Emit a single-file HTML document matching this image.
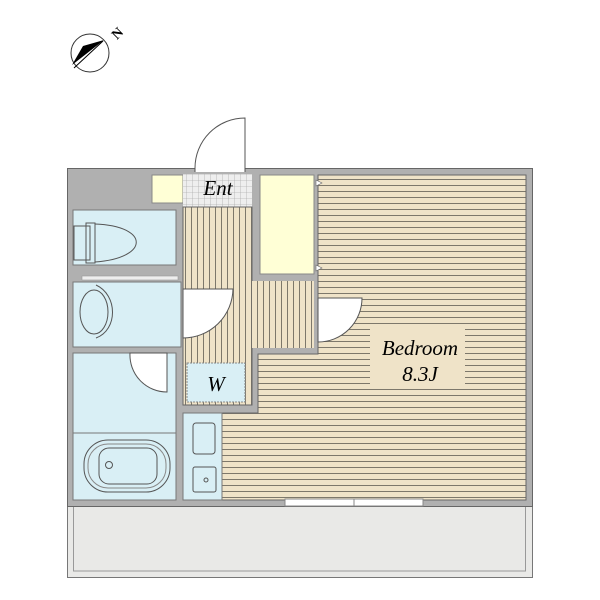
<!DOCTYPE html>
<html><head><style>body{margin:0;background:#fff}svg{display:block}</style></head><body>
<svg width="600" height="600" viewBox="0 0 600 600" xmlns="http://www.w3.org/2000/svg">
<defs>
<pattern id="hs" width="6" height="6" patternUnits="userSpaceOnUse"><rect width="6" height="6" fill="#efe3c8"/><rect y="5" width="6" height="1" fill="#7d786b"/></pattern>
<pattern id="vs" width="6" height="6" patternUnits="userSpaceOnUse"><rect width="6" height="6" fill="#efe3c8"/><rect x="5" width="1" height="6" fill="#7d786b"/></pattern>
<pattern id="tile" width="6" height="6" patternUnits="userSpaceOnUse"><rect width="6" height="6" fill="#eeeeee"/><path d="M0 0H6M0 0V6" stroke="#999" stroke-width="0.6"/></pattern>
</defs>
<rect x="67.5" y="506" width="465" height="71.5" fill="#e9e9e7" stroke="#777"/>
<rect x="73.5" y="506" width="452" height="65" fill="none" stroke="#999"/>
<rect x="67.5" y="168.5" width="465" height="338" fill="#b0b0b0" stroke="#666"/>
<rect x="152" y="175" width="31" height="28" fill="#ffffd6" stroke="#888"/>
<rect x="183" y="174" width="69" height="33" fill="url(#tile)"/>
<text x="218" y="195" font-family="Liberation Serif" font-style="italic" font-size="21" text-anchor="middle">Ent</text>
<rect x="73" y="210" width="103" height="55" fill="#d9eff5" stroke="#777"/>
<rect x="82" y="276" width="96" height="4" fill="#eee" stroke="#999" stroke-width="0.6"/>
<rect x="73" y="282" width="108" height="65" fill="#d9eff5" stroke="#777"/>
<rect x="73" y="353" width="103" height="147" fill="#d9eff5" stroke="#777"/>
<line x1="73" y1="433" x2="176" y2="433" stroke="#777"/>
<rect x="183" y="207" width="69" height="198" fill="url(#vs)" stroke="#666"/>
<rect x="252" y="281" width="62" height="67" fill="url(#vs)"/>
<rect x="187" y="363" width="58" height="39" fill="#d9eff5" stroke="#888" stroke-dasharray="2 1"/>
<text x="216" y="391" font-family="Liberation Serif" font-style="italic" font-size="21" text-anchor="middle">W</text>
<rect x="260" y="175" width="54" height="99" fill="#ffffd6" stroke="#888"/>
<path d="M318 175H526V500H222V413H258V354H318Z" fill="url(#hs)" stroke="#666"/>
<rect x="183" y="413" width="39" height="87" fill="#d9eff5" stroke="#777"/>
<rect x="285" y="499" width="138" height="7" fill="#fff" stroke="#888"/>
<line x1="354" y1="499" x2="354" y2="506" stroke="#888"/>
<rect x="370" y="325" width="95" height="60" fill="#efe3c8"/>
<text x="420" y="355" font-family="Liberation Serif" font-style="italic" font-size="21" text-anchor="middle">Bedroom</text>
<text x="420" y="381" font-family="Liberation Serif" font-style="italic" font-size="21" text-anchor="middle">8.3J</text>
<path d="M245 172V118A50 50 0 0 0 195 168V172" fill="#fff" stroke="#555"/>
<path d="M183 289H233A50 50 0 0 1 183 338Z" fill="#fff" stroke="#555"/>
<path d="M318 298H362A44 44 0 0 1 318 342Z" fill="#fff" stroke="#555"/>
<path d="M130 353H167V392A37 37 0 0 1 130 353Z" fill="#fff" stroke="#555"/>
<path d="M316 180L322 183L316 186Z M316 265L322 268L316 271Z" fill="#fff" stroke="#666" stroke-width="0.6"/>
<rect x="74" y="226" width="16" height="34" fill="none" stroke="#555"/>
<rect x="86" y="223" width="9" height="40" fill="none" stroke="#555"/>
<path d="M95 224C150 226 150 258 95 262" fill="none" stroke="#555"/>
<path d="M96 285C118 295 118 330 96 338" fill="none" stroke="#555"/>
<ellipse cx="94" cy="312" rx="14" ry="22" fill="none" stroke="#555"/>
<rect x="84" y="440" width="86" height="52" rx="24" fill="none" stroke="#555"/>
<rect x="88" y="444" width="78" height="44" rx="20" fill="none" stroke="#888"/>
<rect x="99" y="448" width="58" height="36" rx="10" fill="none" stroke="#555"/>
<circle cx="109" cy="465" r="3.5" fill="none" stroke="#555"/>
<rect x="193" y="423" width="22" height="31" rx="3" fill="none" stroke="#555"/>
<rect x="193" y="467" width="23" height="25" rx="2" fill="none" stroke="#555"/>
<circle cx="206" cy="480" r="2" fill="none" stroke="#555"/>
<circle cx="90" cy="53" r="19" fill="#fff" stroke="#333"/>
<path d="M104 40L72 65L83 46Z" fill="#000"/>
<path d="M74 68L103 41" stroke="#000" stroke-width="1"/>
<text x="117" y="38" font-family="Liberation Serif" font-size="14" font-weight="bold" transform="rotate(-45 117 33)" text-anchor="middle">N</text>
</svg>
</body></html>
